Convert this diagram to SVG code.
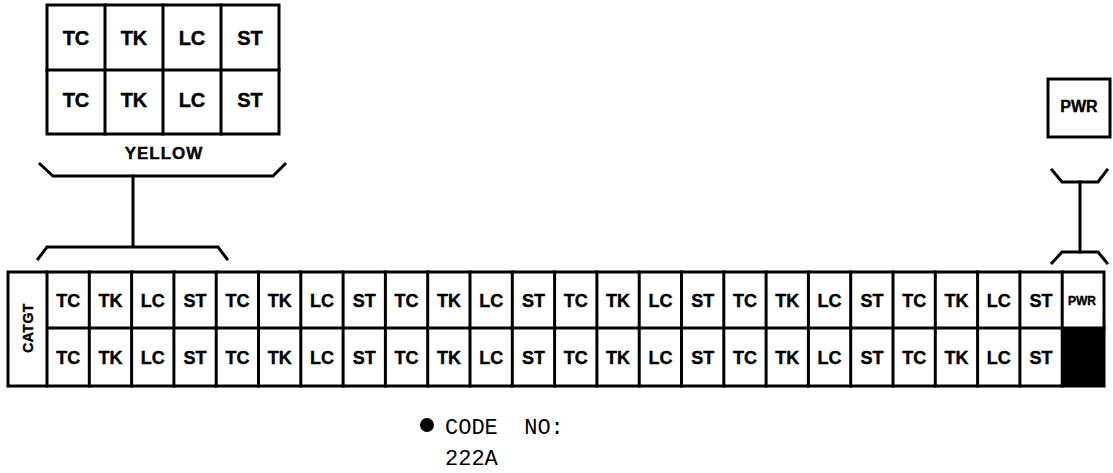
<svg xmlns="http://www.w3.org/2000/svg" width="1113" height="473" viewBox="0 0 1113 473">
<style>
.ln{fill:none;stroke:#000;stroke-width:3;stroke-linejoin:miter;stroke-linecap:square}
.cell{fill:#fff;stroke:#000;stroke-width:3}
.t{font-family:"Liberation Sans",Arial,sans-serif;font-weight:bold;text-anchor:middle;fill:#000;stroke:#000;stroke-width:0.4}
.s{font-size:18px}
.b{font-size:20px}
.m{font-family:"Liberation Mono","Courier New",monospace;font-size:22px;fill:#000}
</style>
<rect width="1113" height="473" fill="#fff"/>
<g id="yellow-panel">
<rect class="cell" x="47" y="5" width="232" height="129"/>
<path class="ln" d="M105 5V134M163 5V134M221 5V134M47 70H279"/>
<g class="t b">
<text x="76" y="45">TC</text><text x="134" y="45">TK</text><text x="192" y="45">LC</text><text x="250" y="45">ST</text>
<text x="76" y="107">TC</text><text x="134" y="107">TK</text><text x="192" y="107">LC</text><text x="250" y="107">ST</text>
</g>
<text class="t" x="164" y="159" font-size="17" letter-spacing="1">YELLOW</text>
</g>
<g id="pwr-panel">
<rect class="cell" x="1048" y="79" width="62" height="58"/>
<text class="t" x="1079" y="112" font-size="16">PWR</text>
</g>
<g id="connectors">
<path class="ln" d="M40 164L53 176H273L285 164"/>
<path class="ln" d="M133 176V246"/>
<path class="ln" d="M38 259L47 247H218L227 259"/>
<path class="ln" d="M1052 170L1062 182H1098L1107 170"/>
<path class="ln" d="M1080 182V252"/>
<path class="ln" d="M1052 263L1062 252H1098L1107 263"/>
</g>
<g id="carrier-strip">
<rect class="cell" x="8" y="272" width="1096" height="114"/>
<rect x="1062" y="328" width="42" height="58" fill="#000"/>
<path class="ln" d="M47 272V386M89.3 272V386M131.6 272V386M173.9 272V386M216.2 272V386M258.5 272V386M300.8 272V386M343.1 272V386M385.4 272V386M427.7 272V386M470 272V386M512.3 272V386M554.6 272V386M596.9 272V386M639.2 272V386M681.5 272V386M723.8 272V386M766.1 272V386M808.4 272V386M850.7 272V386M893 272V386M935.3 272V386M977.6 272V386M1019.9 272V386M1062.2 272V386M47 328H1104"/>
<text class="t" font-size="14" letter-spacing="0.5" transform="translate(28,328) rotate(-90)" y="5">CATGT</text>
<g class="t s">
<text x="68.2" y="306.5">TC</text><text x="110.5" y="306.5">TK</text><text x="152.8" y="306.5">LC</text><text x="195" y="306.5">ST</text>
<text x="237.4" y="306.5">TC</text><text x="279.7" y="306.5">TK</text><text x="322" y="306.5">LC</text><text x="364.3" y="306.5">ST</text>
<text x="406.6" y="306.5">TC</text><text x="448.9" y="306.5">TK</text><text x="491.2" y="306.5">LC</text><text x="533.5" y="306.5">ST</text>
<text x="575.8" y="306.5">TC</text><text x="618" y="306.5">TK</text><text x="660.4" y="306.5">LC</text><text x="702.7" y="306.5">ST</text>
<text x="745" y="306.5">TC</text><text x="787.3" y="306.5">TK</text><text x="829.6" y="306.5">LC</text><text x="871.9" y="306.5">ST</text>
<text x="914.2" y="306.5">TC</text><text x="956.5" y="306.5">TK</text><text x="998.8" y="306.5">LC</text><text x="1041" y="306.5">ST</text>
<text x="68.2" y="363.5">TC</text><text x="110.5" y="363.5">TK</text><text x="152.8" y="363.5">LC</text><text x="195" y="363.5">ST</text>
<text x="237.4" y="363.5">TC</text><text x="279.7" y="363.5">TK</text><text x="322" y="363.5">LC</text><text x="364.3" y="363.5">ST</text>
<text x="406.6" y="363.5">TC</text><text x="448.9" y="363.5">TK</text><text x="491.2" y="363.5">LC</text><text x="533.5" y="363.5">ST</text>
<text x="575.8" y="363.5">TC</text><text x="618" y="363.5">TK</text><text x="660.4" y="363.5">LC</text><text x="702.7" y="363.5">ST</text>
<text x="745" y="363.5">TC</text><text x="787.3" y="363.5">TK</text><text x="829.6" y="363.5">LC</text><text x="871.9" y="363.5">ST</text>
<text x="914.2" y="363.5">TC</text><text x="956.5" y="363.5">TK</text><text x="998.8" y="363.5">LC</text><text x="1041" y="363.5">ST</text>
</g>
<text class="t" x="1082" y="305" font-size="12">PWR</text>
</g>
<g id="code-note">
<circle cx="427" cy="425" r="7" fill="#000"/>
<text class="m" x="445" y="434" xml:space="preserve">CODE  NO:</text>
<text class="m" x="445" y="465">222A</text>
</g>
</svg>
